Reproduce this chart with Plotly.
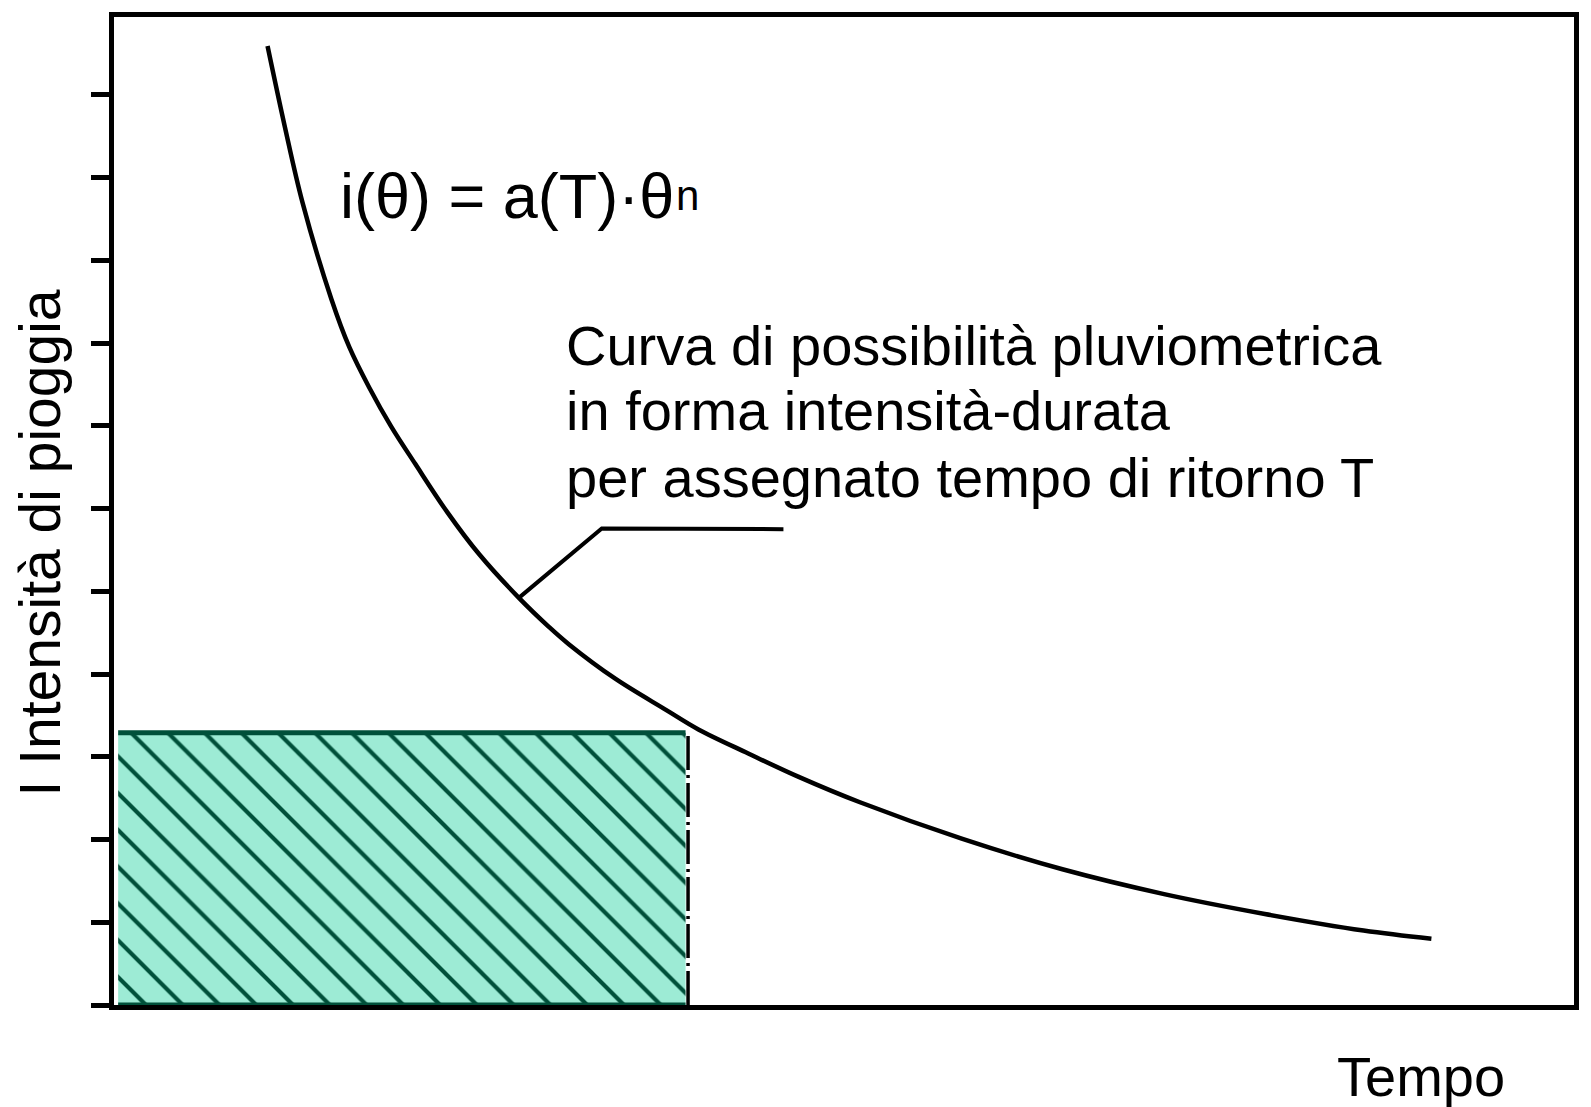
import plotly.graph_objects as go

# Rainfall intensity-duration curve i(theta) = a(T) * theta^n (schematic, arbitrary units)
theta = [1.851, 2.056, 2.272, 2.621, 2.837, 3.078, 3.342, 3.631, 4.015, 4.400,
         4.881, 5.242, 5.482, 6.047, 6.648, 7.045, 7.646, 8.247, 8.992,
         10.219, 11.433, 12.659, 13.873, 15.063, 15.881]
intensity = [11.59, 10.63, 9.70, 8.53, 7.95, 7.46, 6.99, 6.54, 5.96, 5.45,
             4.92, 4.57, 4.36, 3.94, 3.57, 3.33, 3.04, 2.76, 2.45,
             2.01, 1.64, 1.34, 1.10, 0.90, 0.80]

# Design block: duration and constant intensity of the hatched rectangle
block_theta = [0.05, 6.89]
block_intensity = 3.29
block_edge_theta = 6.92

# Leader line from the curve to the description
leader_x = [4.88, 5.88, 8.07]
leader_y = [4.92, 5.76, 5.75]

# Intensity tick positions on the vertical axis
y_ticks = list(range(0, 12))

FONT = "Liberation Sans, Arial, sans-serif"
DARK_GREEN = "#00503a"
LIGHT_GREEN = "#9debd5"

fig = go.Figure()

# hatched block
x0, x1 = block_theta
fig.add_trace(go.Scatter(
    x=[x0, x1, x1, x0, x0],
    y=[0, 0, block_intensity, block_intensity, 0],
    mode="lines", fill="toself", line=dict(width=0),
    fillcolor=LIGHT_GREEN,
    fillpattern=dict(shape="\\", bgcolor=LIGHT_GREEN, fgcolor=DARK_GREEN,
                     fgopacity=1, size=26, solidity=0.16),
    hoverinfo="skip",
))
# top and bottom edges of the block
fig.add_trace(go.Scatter(x=[x0, x1], y=[block_intensity, block_intensity], mode="lines",
                         line=dict(color=DARK_GREEN, width=5), hoverinfo="skip"))
fig.add_trace(go.Scatter(x=[x0, x1], y=[0, 0], mode="lines",
                         line=dict(color=DARK_GREEN, width=5), hoverinfo="skip"))
# right edge, dashed
fig.add_trace(go.Scatter(x=[block_edge_theta, block_edge_theta], y=[0, block_intensity],
                         mode="lines",
                         line=dict(color="black", width=3.5, dash="34px,5px,3px,5px"),
                         hoverinfo="skip"))

# intensity-duration curve
fig.add_trace(go.Scatter(x=theta, y=intensity, mode="lines",
                         line=dict(color="black", width=4.5, shape="spline",
                                   smoothing=1.0, simplify=False),
                         hoverinfo="skip"))

# leader line
fig.add_trace(go.Scatter(x=leader_x, y=leader_y, mode="lines",
                         line=dict(color="black", width=4), hoverinfo="skip"))

# formula, with the exponent set as a smaller raised label
fig.add_annotation(x=2.695, y=9.775, xref="x", yref="y", xanchor="left", yanchor="middle",
                   text="i(θ) = a(T)·θ", showarrow=False,
                   font=dict(family=FONT, size=63, color="black"))
fig.add_annotation(x=6.75, y=9.78, xref="x", yref="y", xanchor="left", yanchor="middle",
                   text="n", showarrow=False,
                   font=dict(family=FONT, size=42, color="black"))

# description
desc_lines = ["Curva di possibilità pluviometrica",
              "in forma intensità-durata",
              "per assegnato tempo di ritorno T"]
desc_y = [7.97, 7.19, 6.38]
for line, yy in zip(desc_lines, desc_y):
    fig.add_annotation(x=5.42, y=yy, xref="x", yref="y", xanchor="left", yanchor="middle",
                       text=line, showarrow=False,
                       font=dict(family=FONT, size=56, color="black"))

# axis titles
fig.add_annotation(x=-0.0508, y=0.468, xref="paper", yref="paper",
                   xanchor="center", yanchor="middle",
                   text="I Intensità di pioggia", textangle=-90, showarrow=False,
                   font=dict(family=FONT, size=57, color="black"))
fig.add_annotation(x=0.8955, y=-0.0727, xref="paper", yref="paper",
                   xanchor="center", yanchor="middle",
                   text="Tempo", showarrow=False,
                   font=dict(family=FONT, size=56, color="black"))

fig.update_layout(
    width=1591, height=1107,
    margin=dict(l=114, r=13, t=14, b=102),
    paper_bgcolor="white", plot_bgcolor="white",
    showlegend=False,
    xaxis=dict(range=[0, 17.6], showgrid=False, zeroline=False, showticklabels=False,
               ticks="", showline=True, mirror=True, linewidth=5, linecolor="black",
               fixedrange=True),
    yaxis=dict(range=[0, 11.94], showgrid=False, zeroline=False, showticklabels=False,
               tickvals=y_ticks, ticks="outside", ticklen=18, tickwidth=5,
               tickcolor="black", showline=True, mirror=True, linewidth=5,
               linecolor="black", fixedrange=True),
)

fig.write_html("out.html")
